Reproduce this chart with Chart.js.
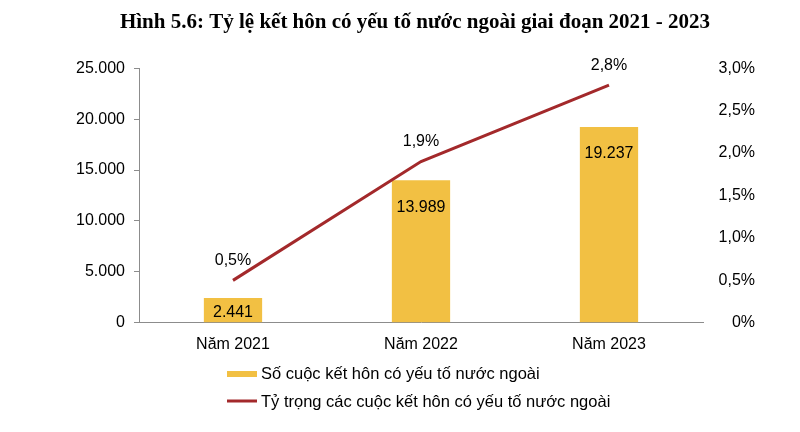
<!DOCTYPE html>
<html lang="vi">
<head>
<meta charset="utf-8">
<title>Hình 5.6</title>
<script src="https://cdn.jsdelivr.net/npm/chart.js@4.4.1/dist/chart.umd.min.js"></script>
<style>
  html, body { margin: 0; padding: 0; background: #fff; }
  #wrap { width: 800px; height: 432px; }
</style>
</head>
<body>
<div id="wrap"><canvas id="chart" width="800" height="432"></canvas></div>
<script>
// Dữ liệu
const namLabels = ['Năm 2021', 'Năm 2022', 'Năm 2023'];
const soCuocKetHon = [2441, 13989, 19237];
const tyTrong = [0.5, 1.9, 2.8];
const tenSoCuoc = 'Số cuộc kết hôn có yếu tố nước ngoài';
const tenTyTrong = 'Tỷ trọng các cuộc kết hôn có yếu tố nước ngoài';
const tieuDe = 'Hình 5.6: Tỷ lệ kết hôn có yếu tố nước ngoài giai đoạn 2021 - 2023';

const mauCot = '#F2C043';
const mauDuong = '#A3292B';
const mauTruc = '#8c8c8c';
const fontChu = '"Liberation Sans", Arial, sans-serif';

function soVN(v) {
    return String(v).replace(/\B(?=(\d{3})+(?!\d))/g, '.');
}
function phanTram(v) {
    return v === 0 ? '0%' : v.toFixed(1).replace('.', ',') + '%';
}

// Nhãn dữ liệu + chú giải vẽ thẳng lên canvas
const nhanDuLieu = {
    id: 'nhanDuLieu',
    afterDatasetsDraw(chart) {
        const ctx = chart.ctx;
        ctx.save();
        ctx.font = '16px ' + fontChu;
        ctx.fillStyle = '#000';
        ctx.textAlign = 'center';
        ctx.textBaseline = 'middle';
        // cột
        chart.getDatasetMeta(1).data.forEach((bar, i) => {
            const y = Math.min(bar.y + 27, (bar.y + bar.base) / 2 + 2);
            ctx.fillText(soVN(soCuocKetHon[i]), bar.x, y);
        });
        // đường
        chart.getDatasetMeta(0).data.forEach((pt, i) => {
            ctx.fillText(phanTram(tyTrong[i]), pt.x, pt.y - 20);
        });
        ctx.restore();
    },
    afterDraw(chart) {
        const ctx = chart.ctx;
        ctx.save();
        ctx.font = '16.5px ' + fontChu;
        ctx.textAlign = 'left';
        ctx.textBaseline = 'middle';
        const x0 = 227;
        ctx.fillStyle = mauCot;
        ctx.fillRect(x0, 371, 30, 6);
        ctx.fillStyle = '#000';
        ctx.fillText(tenSoCuoc, x0 + 34, 374);
        ctx.strokeStyle = mauDuong;
        ctx.lineWidth = 3;
        ctx.beginPath();
        ctx.moveTo(x0, 401);
        ctx.lineTo(x0 + 30, 401);
        ctx.stroke();
        ctx.fillText(tenTyTrong, x0 + 34, 402);
        ctx.restore();
    }
};

new Chart(document.getElementById('chart'), {
    type: 'bar',
    data: {
        labels: namLabels,
        datasets: [
            {
                type: 'line',
                label: tenTyTrong,
                data: tyTrong,
                yAxisID: 'y1',
                borderColor: mauDuong,
                borderWidth: 3,
                pointRadius: 0,
                tension: 0,
                order: 0
            },
            {
                type: 'bar',
                label: tenSoCuoc,
                data: soCuocKetHon,
                yAxisID: 'y',
                backgroundColor: mauCot,
                categoryPercentage: 1,
                barPercentage: 0.31,
                order: 1
            }
        ]
    },
    options: {
        responsive: false,
        animation: false,
        layout: { padding: { left: 75, right: 45, top: 0, bottom: 66 } },
        plugins: {
            legend: { display: false },
            tooltip: { enabled: false },
            title: {
                display: true,
                text: tieuDe,
                color: '#000',
                font: { family: '"Liberation Serif", "Times New Roman", serif', size: 21, weight: 'bold' },
                padding: { top: 10, bottom: 33 }
            }
        },
        scales: {
            x: {
                grid: { display: false, drawTicks: false },
                border: { display: true, color: mauTruc, width: 1 },
                ticks: { color: '#000', font: { family: fontChu, size: 16 }, padding: 12 }
            },
            y: {
                position: 'left',
                min: 0,
                max: 25000,
                grid: { display: true, drawOnChartArea: false, drawTicks: true, tickLength: 5, color: mauTruc },
                border: { display: true, color: mauTruc, width: 1 },
                ticks: {
                    stepSize: 5000,
                    color: '#000',
                    padding: 9,
                    font: { family: fontChu, size: 16 },
                    callback: v => soVN(v)
                },
                afterFit: s => { s.width = 64; }
            },
            y1: {
                position: 'right',
                min: 0,
                max: 3,
                grid: { display: false, drawTicks: false },
                border: { display: false },
                ticks: {
                    stepSize: 0.5,
                    color: '#000',
                    crossAlign: 'far',
                    font: { family: fontChu, size: 16 },
                    callback: v => phanTram(v)
                },
                afterFit: s => { s.width = 52; }
            }
        }
    },
    plugins: [nhanDuLieu]
});
</script>
</body>
</html>
